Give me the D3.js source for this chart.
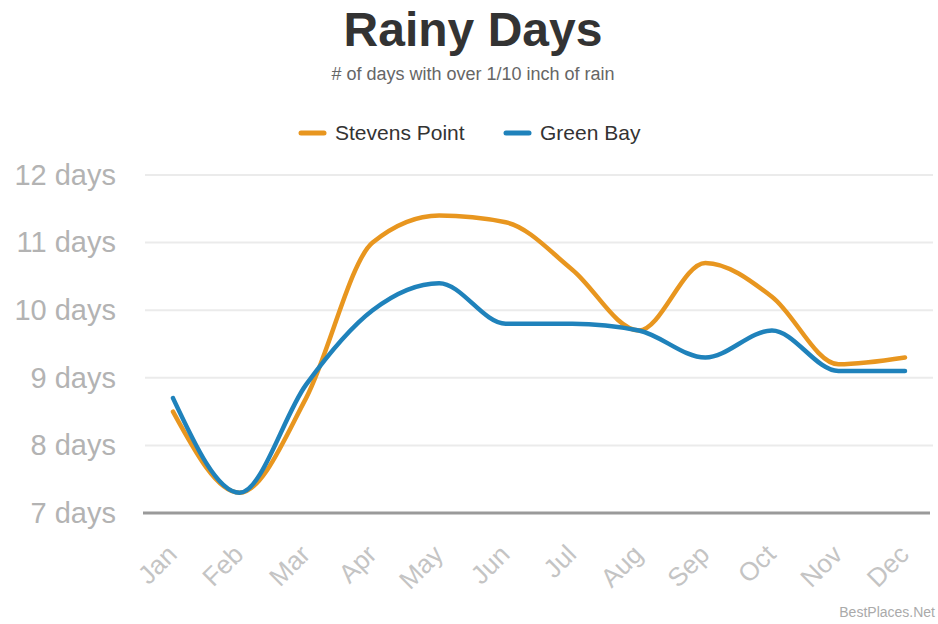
<!DOCTYPE html>
<html>
<head>
<meta charset="utf-8">
<script src="https://cdn.jsdelivr.net/npm/d3@7"></script>
<style>
  body { margin: 0; background: #fff; }
  svg { display: block; font-family: "Liberation Sans", Arial, sans-serif; }
</style>
</head>
<body>
<div id="chart"></div>
<script>
// chart data
var months = ["Jan", "Feb", "Mar", "Apr", "May", "Jun", "Jul", "Aug", "Sep", "Oct", "Nov", "Dec"];
var stevensPoint = [8.5, 7.3, 8.7, 11.0, 11.4, 11.3, 10.6, 9.7, 10.7, 10.2, 9.2, 9.3];
var greenBay = [8.7, 7.3, 8.9, 10.0, 10.4, 9.8, 9.8, 9.7, 9.3, 9.7, 9.1, 9.1];
var yTicks = [7, 8, 9, 10, 11, 12];
var seriesNames = ["Stevens Point", "Green Bay"];
var seriesColors = ["#e8961f", "#1f82bb"];

var width = 938, height = 624;

var svg = d3.select("#chart").append("svg")
    .attr("width", width)
    .attr("height", height);

svg.append("rect")
    .attr("width", width)
    .attr("height", height)
    .attr("fill", "#fff");

// scales
var x = d3.scalePoint()
    .domain(months)
    .range([173, 905]);

var y = d3.scaleLinear()
    .domain([7, 12])
    .range([513, 175]);

// title + subtitle
svg.append("text")
    .attr("x", 473)
    .attr("y", 46)
    .attr("text-anchor", "middle")
    .attr("font-size", 48)
    .attr("font-weight", "bold")
    .attr("fill", "#333")
    .text("Rainy Days");

svg.append("text")
    .attr("x", 473)
    .attr("y", 80)
    .attr("text-anchor", "middle")
    .attr("font-size", 18)
    .attr("fill", "#666")
    .text("# of days with over 1/10 inch of rain");

// legend
var legendX = [301, 506];
seriesNames.forEach(function(name, i){
    var g = svg.append("g")
        .attr("transform", "translate(" + legendX[i] + ",133)");
    g.append("line")
        .attr("x1", 0).attr("x2", 23)
        .attr("stroke", seriesColors[i])
        .attr("stroke-width", 5)
        .attr("stroke-linecap", "round");
    g.append("text")
        .attr("x", 34)
        .attr("dy", "0.35em")
        .attr("font-size", 21)
        .attr("fill", "#333")
        .text(name);
});

// gridlines
svg.append("g")
    .selectAll("line")
    .data(yTicks.slice(1))
    .join("line")
    .attr("x1", 145)
    .attr("x2", 933)
    .attr("y1", function(d){ return y(d); })
    .attr("y2", function(d){ return y(d); })
    .attr("stroke", "#ebebeb")
    .attr("stroke-width", 2);

// y axis labels
var yAxis = svg.append("g")
    .attr("transform", "translate(116,0)")
    .call(d3.axisLeft(y).tickValues(yTicks).tickSize(0).tickPadding(0)
        .tickFormat(function(d){ return d + " days"; }));
yAxis.select(".domain").remove();
yAxis.selectAll("text")
    .attr("font-size", 29)
    .attr("font-family", "Liberation Sans, Arial, sans-serif")
    .attr("fill", "#b3b3b3");

// x axis
var xAxis = svg.append("g")
    .attr("transform", "translate(0," + y(7) + ")")
    .call(d3.axisBottom(x).tickSize(0).tickPadding(0));
xAxis.select(".domain")
    .attr("d", "M143,0H930")
    .attr("stroke", "#9a9a9a")
    .attr("stroke-width", 3);
xAxis.selectAll("text")
    .attr("font-size", 26)
    .attr("font-family", "Liberation Sans, Arial, sans-serif")
    .attr("fill", "#c4c4c4")
    .attr("text-anchor", "end")
    .attr("dy", "0")
    .attr("y", 0)
    .attr("transform", "translate(5,43) rotate(-45)");

// lines
var line = d3.line()
    .x(function(d, i){ return x(months[i]); })
    .y(function(d){ return y(d); })
    .curve(d3.curveMonotoneX);

[stevensPoint, greenBay].forEach(function(vals, i){
    svg.append("path")
        .datum(vals)
        .attr("fill", "none")
        .attr("stroke", seriesColors[i])
        .attr("stroke-width", 4.5)
        .attr("stroke-linejoin", "round")
        .attr("stroke-linecap", "round")
        .attr("d", line);
});

// credit
svg.append("text")
    .attr("x", 935)
    .attr("y", 617)
    .attr("text-anchor", "end")
    .attr("font-size", 14)
    .attr("fill", "#aaa")
    .text("BestPlaces.Net");
</script>
</body>
</html>
